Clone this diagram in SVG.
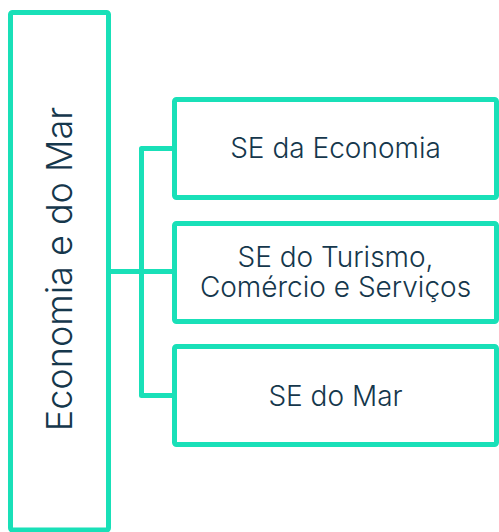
<svg xmlns="http://www.w3.org/2000/svg" width="499" height="532" viewBox="0 0 499 532">
<style>
.box{fill:#fff;stroke:#19e0b8;stroke-width:5;}
.ln{fill:none;stroke:#19e0b8;stroke-width:5;stroke-linejoin:round;}
.t{font-family:Inter,"Noto Sans","Liberation Sans",sans-serif;font-weight:300;fill:#15374c;text-anchor:middle;}
.s{font-size:28px;}
</style>
<rect width="499" height="532" fill="#fff"/>
<g id="connectors">
<path class="ln" d="M108.5 271.5 H141.5 M174.5 148.5 H141.5 V395.5 H174.5 M141.5 271.5 H174.5"/>
</g>
<g id="root">
<rect class="box" x="10.5" y="12.5" width="98" height="517.5" rx="2"/>
<text class="t" font-size="36" transform="translate(72 269) rotate(-90)">Economia e do Mar</text>
</g>
<g id="n1">
<rect class="box" x="174.5" y="99.5" width="322" height="98" rx="2"/>
<text class="t s" x="335.5" y="158">SE da Economia</text>
</g>
<g id="n2">
<rect class="box" x="174.5" y="223.5" width="322" height="98" rx="2"/>
<text class="t s" x="335.5" y="267">SE do Turismo,</text>
<text class="t s" x="335.5" y="297">Comércio e Serviços</text>
</g>
<g id="n3">
<rect class="box" x="174.5" y="346.5" width="322" height="98" rx="2"/>
<text class="t s" x="335.5" y="406">SE do Mar</text>
</g>
</svg>
